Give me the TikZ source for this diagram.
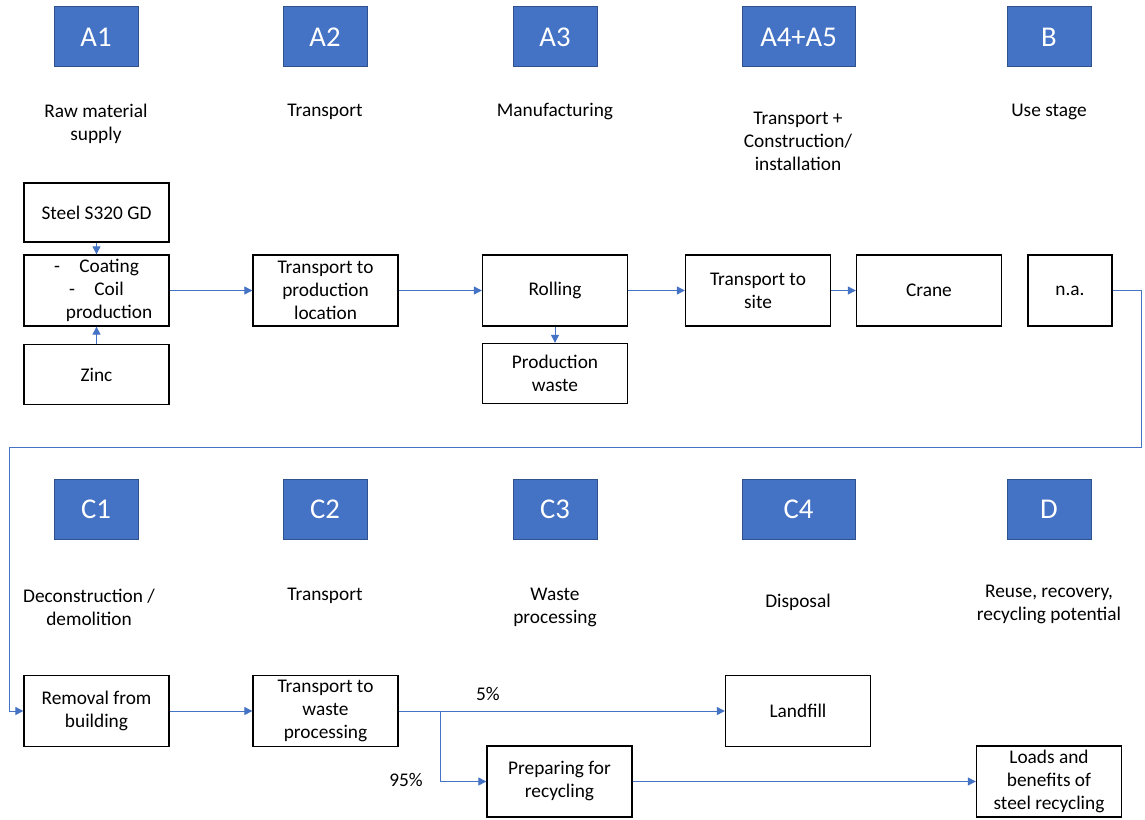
\documentclass[tikz,border=0pt]{standalone}
\usepackage{fontspec}
\setmainfont{Carlito}
\usepackage{tikz}
\usetikzlibrary{positioning,arrows.meta}
\definecolor{azulmodulo}{RGB}{68,114,196}
\definecolor{bordemodulo}{RGB}{47,82,143}
\definecolor{flecha}{RGB}{68,114,196}

\begin{document}
\begin{tikzpicture}[x=0.75pt, y=-0.75pt,
  caja/.style={draw=black, line width=1pt, fill=white, align=center,
    minimum width=108.75pt, minimum height=#1, inner sep=2pt,
    font=\fontsize{14.5}{17.25}\selectfont},
  caja/.default=53.25pt,
  modulo/.style={draw=bordemodulo, line width=0.75pt, fill=azulmodulo,
    text=white, minimum width=#1, minimum height=45pt,
    font=\fontsize{21.5}{24}\selectfont},
  modulo/.default=63pt,
  fase/.style={align=center, inner sep=0pt,
    font=\fontsize{14.5}{17.25}\selectfont},
  flujo/.style={-{Triangle[length=6pt, width=6pt]}, draw=flecha, line width=0.75pt}
]
\fill[white] (0,0) rectangle (1145,820);
\useasboundingbox (0,0) rectangle (1145,820);
% Modulos A y B
\node[modulo] (ma1) at (96,37) {A1};
\node[modulo] (ma2) at (325,37) {A2};
\node[modulo] (ma3) at (555,37) {A3};
\node[modulo=84.75pt] (ma45) at (798.5,37) {A4+A5};
\node[modulo] (mb) at (1049,37) {B};
\node[fase] (fa1) at (96,123.5) {Raw material\\ supply};
\node[fase] (fa2) at (325,112) {Transport};
\node[fase] (fa3) at (555,112) {Manufacturing};
\node[fase] (fa45) at (798,141) {Transport +\\ Construction/\\ installation};
\node[fase] (fb) at (1049,112) {Use stage};
% Procesos A y B
\node[caja=44.25pt] (acero) at (96.5,212.5) {Steel S320 GD};
\node[caja] (recubrimiento) at (96.5,290.5) {-\hspace{1em}Coating\\ -\hspace{1em}Coil\\ \hspace*{1.3em}production};
\node[caja=45pt] (zinc) at (96.5,374.5) {Zinc};
\node[caja] (tprod) at (325.5,290.5) {Transport to\\ production\\ location};
\node[caja] (laminado) at (555,290.5) {Rolling};
\node[caja=45pt] (residuo) at (555,373.5) {Production\\ waste};
\node[caja] (tobra) at (758,290.5) {Transport to\\ site};
\node[caja] (grua) at (929,290.5) {Crane};
\node[caja, minimum width=63pt] (na) at (1070,290.5) {n.a.};
% Modulos C y D
\node[modulo] (mc1) at (96,509) {C1};
\node[modulo] (mc2) at (325,509) {C2};
\node[modulo] (mc3) at (555,509) {C3};
\node[modulo=84.75pt] (mc4) at (798.5,509) {C4};
\node[modulo] (md) at (1049,509) {D};
\node[fase] (fc1) at (89,607.5) {Deconstruction /\\ demolition};
\node[fase] (fc2) at (325,596) {Transport};
\node[fase] (fc3) at (555,607.5) {Waste\\ processing};
\node[fase] (fc4) at (798,602) {Disposal};
\node[fase] (fd) at (1049,604.5) {Reuse, recovery,\\ recycling potential};
% Procesos C y D
\node[caja] (retiro) at (96.5,711) {Removal from\\ building};
\node[caja] (tresiduo) at (325.5,711) {Transport to\\ waste\\ processing};
\node[caja] (vertedero) at (798,711) {Landfill};
\node[caja] (reciclado) at (559.5,781.5) {Preparing for\\ recycling};
\node[caja] (cargas) at (1049,781.5) {Loads and\\ benefits of\\ steel recycling};
\node[fase] (p5) at (488,694) {5\%};
\node[fase] (p95) at (406,780) {95\%};
% Flujos
\coordinate (vuelta1) at (1141,447);
\coordinate (vuelta2) at (9,447);
\coordinate (rama) at (440,711);
\draw[flujo] (acero) -- (recubrimiento);
\draw[flujo] (zinc) -- (recubrimiento);
\draw[flujo] (recubrimiento) -- (tprod);
\draw[flujo] (tprod) -- (laminado);
\draw[flujo] (laminado) -- (tobra);
\draw[flujo] (laminado) -- (residuo);
\draw[flujo] (tobra) -- (grua);
\draw[flujo] (na.east) -| (vuelta1) -- (vuelta2) |- (retiro.west);
\draw[flujo] (retiro) -- (tresiduo);
\draw[flujo] (tresiduo) -- (vertedero);
\draw[flujo] (rama) |- (reciclado.west);
\draw[flujo] (reciclado) -- (cargas);
\end{tikzpicture}
\end{document}
